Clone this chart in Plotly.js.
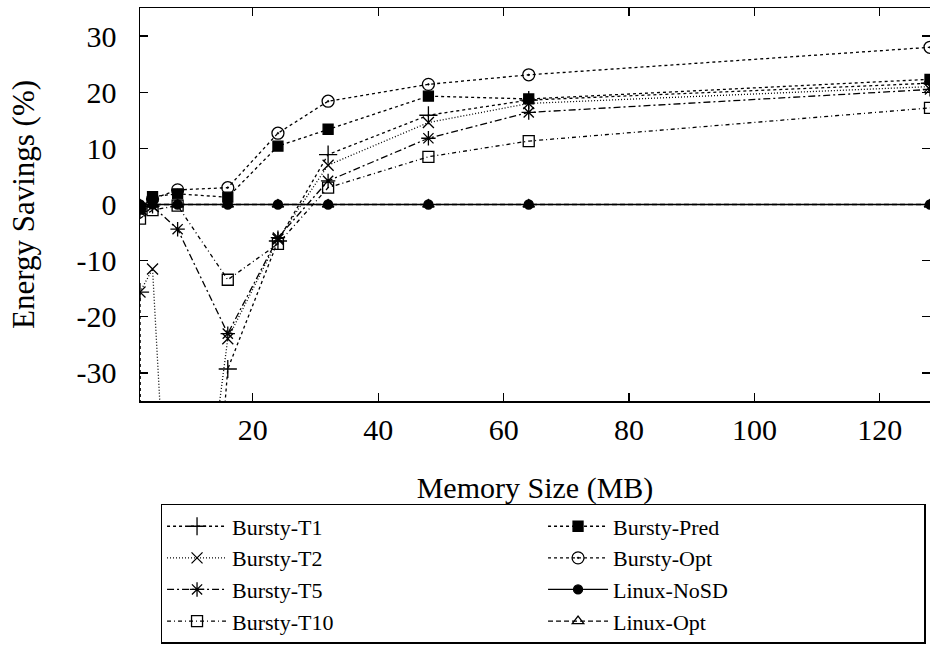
<!DOCTYPE html>
<html>
<head>
<meta charset="utf-8">
<script src="https://cdn.plot.ly/plotly-3.0.1.min.js"></script>
<style>
  html, body { margin: 0; padding: 0; background: #ffffff; }
  #chart { width: 930px; height: 667px; }
</style>
</head>
<body>
<div id="chart"></div>
<script>
// ---- data ----
const memorySizeMB = [2, 4, 8, 16, 24, 32, 48, 64, 128];
const burstyT1   = [-15.6, -1000, -140, -29.3, -6.5, 8.9, 15.9, 18.6, 21.6];
const burstyT2   = [-15.6, -11.5, -93, -23.9, -6.2, 7.0, 14.6, 18.0, 21.0];
const burstyT5   = [-1.2, -0.3, -4.4, -23.0, -5.9, 4.2, 11.8, 16.4, 20.5];
const burstyT10  = [-2.5, -1.0, -0.2, -13.4, -7.0, 3.0, 8.5, 11.3, 17.2];
const burstyPred = [-0.8, 1.4, 1.9, 1.3, 10.4, 13.4, 19.3, 18.8, 22.3];
const burstyOpt  = [-0.5, 1.0, 2.6, 3.0, 12.7, 18.4, 21.4, 23.1, 28.0];
const linuxNoSD  = [0, 0, 0, 0, 0, 0, 0, 0, 0];
const linuxOpt   = [0, 0, 0, 0, 0, 0, 0, 0, 0];

const xTickVals = [20, 40, 60, 80, 100, 120];
const xTickText = ["20", "40", "60", "80", "100", "120"];
const yTickVals = [-30, -20, -10, 0, 10, 20, 30];
const yTickText = ["-30", "-20", "-10", "0", "10", "20", "30"];

// ---- styles ----
const FONT = "Liberation Serif, Times New Roman, serif";
const styles = {
  "Bursty-T1":   {dash: "3px,3px",         symbol: "cross-thin",       size: 13},
  "Bursty-T2":   {dash: "1px,2px",         symbol: "x-thin",           size: 11},
  "Bursty-T5":   {dash: "7px,3px,2px,3px", symbol: "asterisk",         size: 12},
  "Bursty-T10":  {dash: "4px,3px,1px,3px", symbol: "square-open",      size: 11},
  "Bursty-Pred": {dash: "3px,3px",         symbol: "square",           size: 10},
  "Bursty-Opt":  {dash: "3px,3px",         symbol: "circle-open-dot",  size: 12},
  "Linux-NoSD":  {dash: "solid",           symbol: "circle",           size: 9},
  "Linux-Opt":   {dash: "5px,3px",         symbol: "triangle-up-open", size: 10}
};
const values = {
  "Bursty-T1": burstyT1, "Bursty-T2": burstyT2, "Bursty-T5": burstyT5,
  "Bursty-T10": burstyT10, "Bursty-Pred": burstyPred, "Bursty-Opt": burstyOpt,
  "Linux-NoSD": linuxNoSD, "Linux-Opt": linuxOpt
};

// legend order: row-wise pairs (left column, right column)
const legendOrder = ["Bursty-T1", "Bursty-Pred", "Bursty-T2", "Bursty-Opt",
                     "Bursty-T5", "Linux-NoSD", "Bursty-T10", "Linux-Opt"];

const traces = legendOrder.map(name => {
  const s = styles[name];
  return {
    type: "scatter",
    mode: "lines+markers",
    name: name,
    x: memorySizeMB,
    y: values[name],
    line: {color: "#000000", width: 1.3, dash: s.dash},
    marker: {
      symbol: s.symbol, size: s.size,
      color: "#000000",
      line: {color: "#000000", width: 1.3}
    }
  };
});

const layout = {
  width: 930, height: 667,
  paper_bgcolor: "#ffffff", plot_bgcolor: "#ffffff",
  margin: {l: 139.5, r: 0, t: 8, b: 265.5, autoexpand: false},
  font: {family: FONT, size: 30, color: "#000000"},
  showlegend: true,
  xaxis: {
    range: [2, 128], automargin: false,
    tickmode: "array", tickvals: xTickVals, ticktext: xTickText,
    ticks: "inside", ticklen: 8, tickwidth: 1.2, tickcolor: "#000",
    showline: true, linecolor: "#000", linewidth: 1.5, mirror: "allticks",
    showgrid: false, zeroline: false,
    tickfont: {family: FONT, size: 30},
    ticklabelstandoff: 1,
    title: {text: "Memory Size (MB)", font: {family: FONT, size: 30}, standoff: 32}
  },
  yaxis: {
    range: [-35, 35], automargin: false,
    tickmode: "array", tickvals: yTickVals, ticktext: yTickText,
    ticks: "inside", ticklen: 8, tickwidth: 1.2, tickcolor: "#000",
    showline: true, linecolor: "#000", linewidth: 1.5, mirror: "allticks",
    showgrid: false, zeroline: false,
    tickfont: {family: FONT, size: 30},
    ticklabelstandoff: 16,
    title: {text: "Energy Savings (%)", font: {family: FONT, size: 31}, standoff: 32}
  },
  legend: {
    orientation: "h",
    x: 0.026, xanchor: "left",
    y: -0.262, yanchor: "top",
    bordercolor: "#000", borderwidth: 1.5,
    bgcolor: "#ffffff",
    font: {family: FONT, size: 22, color: "#000"},
    entrywidth: 306, entrywidthmode: "pixels",
    itemwidth: 60,
    tracegroupgap: 0
  }
};

Plotly.newPlot("chart", traces, layout, {displayModeBar: false, staticPlot: true});
</script>
</body>
</html>
